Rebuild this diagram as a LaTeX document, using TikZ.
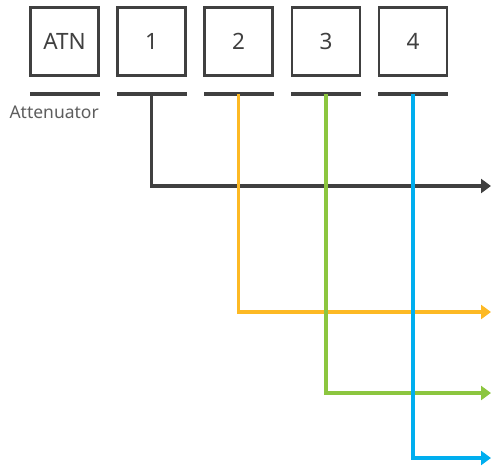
\documentclass[tikz,border=0pt]{standalone}
\usepackage{fontspec}
\setmainfont{Noto Sans}
\usetikzlibrary{arrows.meta}
\definecolor{dk}{HTML}{404040}
\definecolor{yl}{HTML}{FDB924}
\definecolor{gr}{HTML}{8CC63F}
\definecolor{bl}{HTML}{00AEEF}
\begin{document}
\begin{tikzpicture}[x=1pt,y=1pt,
  chbox/.style={draw=dk,line width=2.8pt,minimum width=68pt,minimum height=68pt,inner sep=0pt,text=dk,font=\fontsize{22.5}{24}\selectfont},
  chbar/.style={fill=dk,draw=none,minimum width=70pt,minimum height=4pt,inner sep=0pt},
  wire/.style={line width=3.2pt,-{Triangle[length=10pt,width=14pt]}}]
\useasboundingbox (0,0) rectangle (491,-466);
\node[chbox] (atn) at (64.5,-41.5) {ATN};
\node[chbox] (c1) at (151.5,-41.5) {1};
\node[chbox] (c2) at (238.5,-41.5) {2};
\node[chbox] (c3) at (326,-41.5) {3};
\node[chbox] (c4) at (413,-41.5) {4};
\node[chbar] (ba) at (64.5,-94) {};
\node[chbar] (b1) at (151.5,-94) {};
\node[chbar] (b2) at (238.5,-94) {};
\node[chbar] (b3) at (326,-94) {};
\node[chbar] (b4) at (413,-94) {};
\node[anchor=north east,inner sep=0pt,text=dk!85,font=\fontsize{17.5}{19}\selectfont] (lab) at (99,-105.5) {Attenuator};
\coordinate (e1) at (491,-186);
\coordinate (e2) at (491,-312);
\coordinate (e3) at (491,-393);
\coordinate (e4) at (491,-458);
\draw[wire,dk] (b1.center) |- (e1);
\draw[wire,yl] (b2.center) |- (e2);
\draw[wire,gr] (b3.center) |- (e3);
\draw[wire,bl] (b4.center) |- (e4);
\end{tikzpicture}
\end{document}
